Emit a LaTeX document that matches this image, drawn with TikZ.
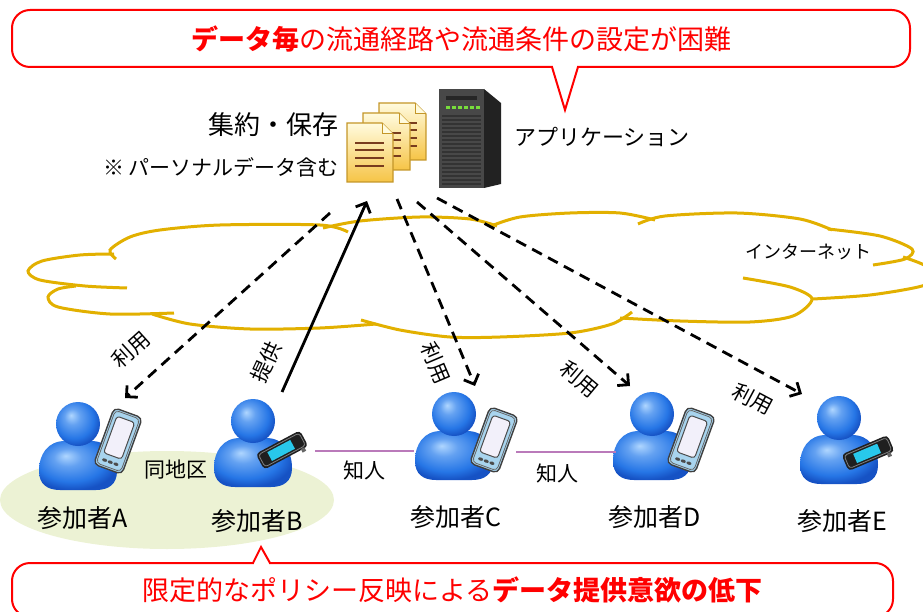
\documentclass[tikz,border=0pt]{standalone}
\usepackage{fontspec}
\setmainfont{Noto Sans CJK JP}
\usetikzlibrary{arrows.meta,positioning}

\definecolor{calloutred}{RGB}{255,0,0}
\definecolor{cloudgold}{RGB}{226,176,0}
\definecolor{areagreen}{RGB}{236,242,212}
\definecolor{knowpurple}{RGB}{186,122,186}
\definecolor{headlight}{RGB}{175,214,255}
\definecolor{headblue}{RGB}{38,118,230}
\definecolor{headdark}{RGB}{22,82,196}
\definecolor{phoneframe}{RGB}{168,212,238}
\definecolor{phonescreen}{RGB}{242,240,250}
\definecolor{bandcyan}{RGB}{40,200,235}
\definecolor{docpale}{RGB}{255,251,222}
\definecolor{docdeep}{RGB}{246,196,70}
\definecolor{docedge}{RGB}{196,150,40}
\definecolor{docline}{RGB}{120,60,30}
\definecolor{srvfront}{RGB}{72,72,72}
\definecolor{srvside}{RGB}{34,34,34}
\definecolor{srvled}{RGB}{120,220,60}

\pgfdeclareradialshading{personball}{\pgfpoint{-8bp}{10bp}}{%
  color(0bp)=(headlight); color(9bp)=(headlight!45!headblue);
  color(22bp)=(headblue); color(29bp)=(headdark); color(50bp)=(headdark)}

\tikzset{
  cloudline/.style={cloudgold,line width=3pt},
  flow/.style={line width=2.8pt,-{Straight Barb[length=8pt,width=16pt]}},
  uselink/.style={flow,dash pattern=on 11pt off 7pt},
  callout/.style={draw=calloutred,line width=2pt,rounded corners=18pt,fill=white,
    text=calloutred,inner sep=0pt,font=\fontsize{27}{30}\selectfont},
  calloutline/.style={draw=calloutred,line width=2pt},
  lbl/.style={inner sep=0pt,font=\fontsize{21}{24}\selectfont},
  who/.style={inner sep=0pt,font=\fontsize{25}{28}\selectfont},
  knows/.style={knowpurple,line width=1.6pt},
}

% person: name, x, y of the head centre
\newcommand{\member}[3]{%
  \coordinate (#1) at (#2,#3);
  \begin{scope}[shift={(#2,#3)}]
    \path[shading=personball] (-13,17) .. controls (-30,17) and (-39,30) .. (-39,47)
      .. controls (-39,60) and (-31,66) .. (-18,66) -- (18,66)
      .. controls (31,66) and (39,60) .. (39,47)
      .. controls (39,30) and (30,17) .. (13,17) -- cycle;
    \path[shading=personball] (0,0) circle[radius=22];
  \end{scope}}

% smartphone: x, y, angle
\newcommand{\handset}[3]{%
  \begin{scope}[shift={(#1,#2)},rotate=#3]
    \draw[black!75,line width=1.4pt,fill=phoneframe,rounded corners=5pt] (-15,-30) rectangle (15,30);
    \draw[black!60,line width=0.8pt,rounded corners=4pt] (-13,-28) rectangle (13,28);
    \draw[black!70,line width=1pt,fill=phonescreen,rounded corners=3pt] (-9.5,-23) rectangle (9.5,16);
    \foreach \bx in {-6,0,6}
      \fill[black!70] (\bx,22.5) ellipse[x radius=2.6,y radius=1.6];
  \end{scope}}

% wearable band: x, y, angle
\newcommand{\wristband}[3]{%
  \begin{scope}[shift={(#1,#2)},rotate=#3]
    \fill[black!88,rounded corners=4pt] (-25,-9) rectangle (25,9);
    \draw[black!50,line width=0.8pt,rounded corners=3pt] (-23,-7) rectangle (23,7);
    \fill[bandcyan] (-14,-5) rectangle (12,5);
    \fill[black!60] (17,8) rectangle (21,12);
  \end{scope}}

% sheet of paper: x0, y0, x1, y1
\newcommand{\sheet}[4]{%
  \draw[docedge,line width=1.2pt,top color=docpale,bottom color=docdeep]
    (#1,#2) -- ({#3-11},#2) -- (#3,{#2+11}) -- (#3,#4) -- (#1,#4) -- cycle;
  \draw[docedge,line width=1pt,fill=docpale] ({#3-11},#2) -- ({#3-11},{#2+11}) -- (#3,{#2+11});
  \foreach \ly in {20,27,35,43}
    \draw[docline,line width=1.4pt] ({#1+8},{#2+\ly}) -- ({#3-9},{#2+\ly});}

\begin{document}
\begin{tikzpicture}[x=1pt,y=-1pt]
\useasboundingbox (0,0) rectangle (923,612);

\fill[areagreen] (167,500) ellipse[x radius=167,y radius=49];

% the internet cloud
\draw[cloudline] plot[smooth] coordinates {(127,288) (85,286) (40,280) (28,271) (42,261) (80,255) (114,254)};
\draw[cloudline] plot[smooth] coordinates {(116,259) (110,250) (130,237) (160,230) (220,225) (320,225) (348,232)};
\draw[cloudline] plot[smooth] coordinates {(323,228) (360,221) (420,217) (470,219) (497,226)};
\draw[cloudline] plot[smooth] coordinates {(491,226) (520,217) (570,213) (620,213) (655,220)};
\draw[cloudline] plot[smooth] coordinates {(638,224) (665,216) (737,213) (800,219) (832,230)};
\draw[cloudline] plot[smooth] coordinates {(828,229) (880,236) (912,249) (905,259) (873,265)};
\draw[cloudline] plot[smooth] coordinates {(903,257) (924,265) (935,276) (922,286) (870,295) (813,299)};
\draw[cloudline] plot[smooth] coordinates {(743,278) (790,287) (812,299) (793,316) (750,322) (680,321) (620,318)};
\draw[cloudline] plot[smooth] coordinates {(632,312) (612,324) (570,333) (500,337) (450,337) (400,330) (361,320)};
\draw[cloudline] plot[smooth] coordinates {(152,314) (190,324) (250,329) (320,328) (376,324)};
\draw[cloudline] plot[smooth] coordinates {(174,313) (110,314) (58,307) (48,297) (58,289) (76,286)};
\node[lbl,font=\fontsize{18}{20}\selectfont] (net) at (808,252) {インターネット};

% documents and server
\sheet{379}{103}{426}{160}
\sheet{363}{113}{410}{170}
\sheet{347}{123}{393}{182}
\fill[srvside] (484,89) -- (501,103) -- (501,184) -- (484,188) -- cycle;
\fill[srvfront] (439,89) rectangle (484,188);
\foreach \gy in {116,120,...,184}
  \draw[black!80,line width=1.4pt] (442,\gy) -- (481,\gy);
\fill[black!85] (446,96) rectangle (477,100);
\foreach \gx in {446,452,...,476}
  \fill[srvled] (\gx,106.5) rectangle ++(3.5,2.5);
\node[lbl,font=\fontsize{26}{28}\selectfont,anchor=east] (store) at (339,125) {集約・保存};
\node[lbl,anchor=east] (note) at (339,167) {※ パーソナルデータ含む};
\node[lbl,font=\fontsize{22}{24}\selectfont,anchor=west] (app) at (514,137) {アプリケーション};

% participants
\member{memA}{78}{424}
\member{memB}{253}{421}
\member{memC}{454}{414}
\member{memD}{652}{414}
\member{memE}{839}{418}
\handset{118}{441}{-20}
\wristband{282}{450}{28}
\handset{494}{440}{-20}
\handset{691}{440}{-20}
\wristband{868}{453}{23}

\node[who] (labA) at (83,518) {参加者A};
\node[who] (labB) at (257,521) {参加者B};
\node[who] (labC) at (456,517) {参加者C};
\node[who] (labD) at (655,517) {参加者D};
\node[who] (labE) at (842,521) {参加者E};
\node[lbl] (area) at (176,470) {同地区};

\coordinate (kB) at (315,451);
\coordinate (kC1) at (414,451);
\coordinate (kC2) at (516,452);
\coordinate (kD) at (616,452);
\draw[knows] (kB) -- (kC1);
\draw[knows] (kC2) -- (kD);
\node[lbl] (knowBC) at (364,470) {知人};
\node[lbl] (knowCD) at (557,473) {知人};

% data flows
\coordinate (srcA) at (330,213);
\coordinate (dstA) at (125,398);
\coordinate (srcB) at (282,392);
\coordinate (dstB) at (367,201);
\coordinate (srcC) at (397,199);
\coordinate (dstC) at (475,386);
\coordinate (srcD) at (417,202);
\coordinate (dstD) at (630,386);
\coordinate (srcE) at (437,198);
\coordinate (dstE) at (802,394);
\draw[uselink] (srcA) -- (dstA);
\draw[flow] (srcB) -- (dstB);
\draw[uselink] (srcC) -- (dstC);
\draw[uselink] (srcD) -- (dstD);
\draw[uselink] (srcE) -- (dstE);
\node[lbl,rotate=42] (useA) at (131,350) {利用};
\node[lbl,rotate=65] (give) at (266,362) {提供};
\node[lbl,rotate=-67] (useC) at (436,363) {利用};
\node[lbl,rotate=-40] (useD) at (580,379) {利用};
\node[lbl,rotate=-28] (useE) at (753,399) {利用};

% callouts
\node[callout,minimum width=898pt,minimum height=57pt] (issue) at (461,38.5)
  {\textbf{データ毎}の流通経路や流通条件の設定が困難};
\fill[white] (553,64) rectangle (577,70);
\draw[calloutline] (552,67) -- (565,110) -- (578,67);
\node[callout,minimum width=881pt,minimum height=54pt] (drop) at (452.5,590)
  {限定的なポリシー反映による\textbf{データ提供意欲の低下}};
\fill[white] (254,560) rectangle (269,566);
\draw[calloutline] (253,563) -- (261,547) -- (270,563);
\end{tikzpicture}
\end{document}
